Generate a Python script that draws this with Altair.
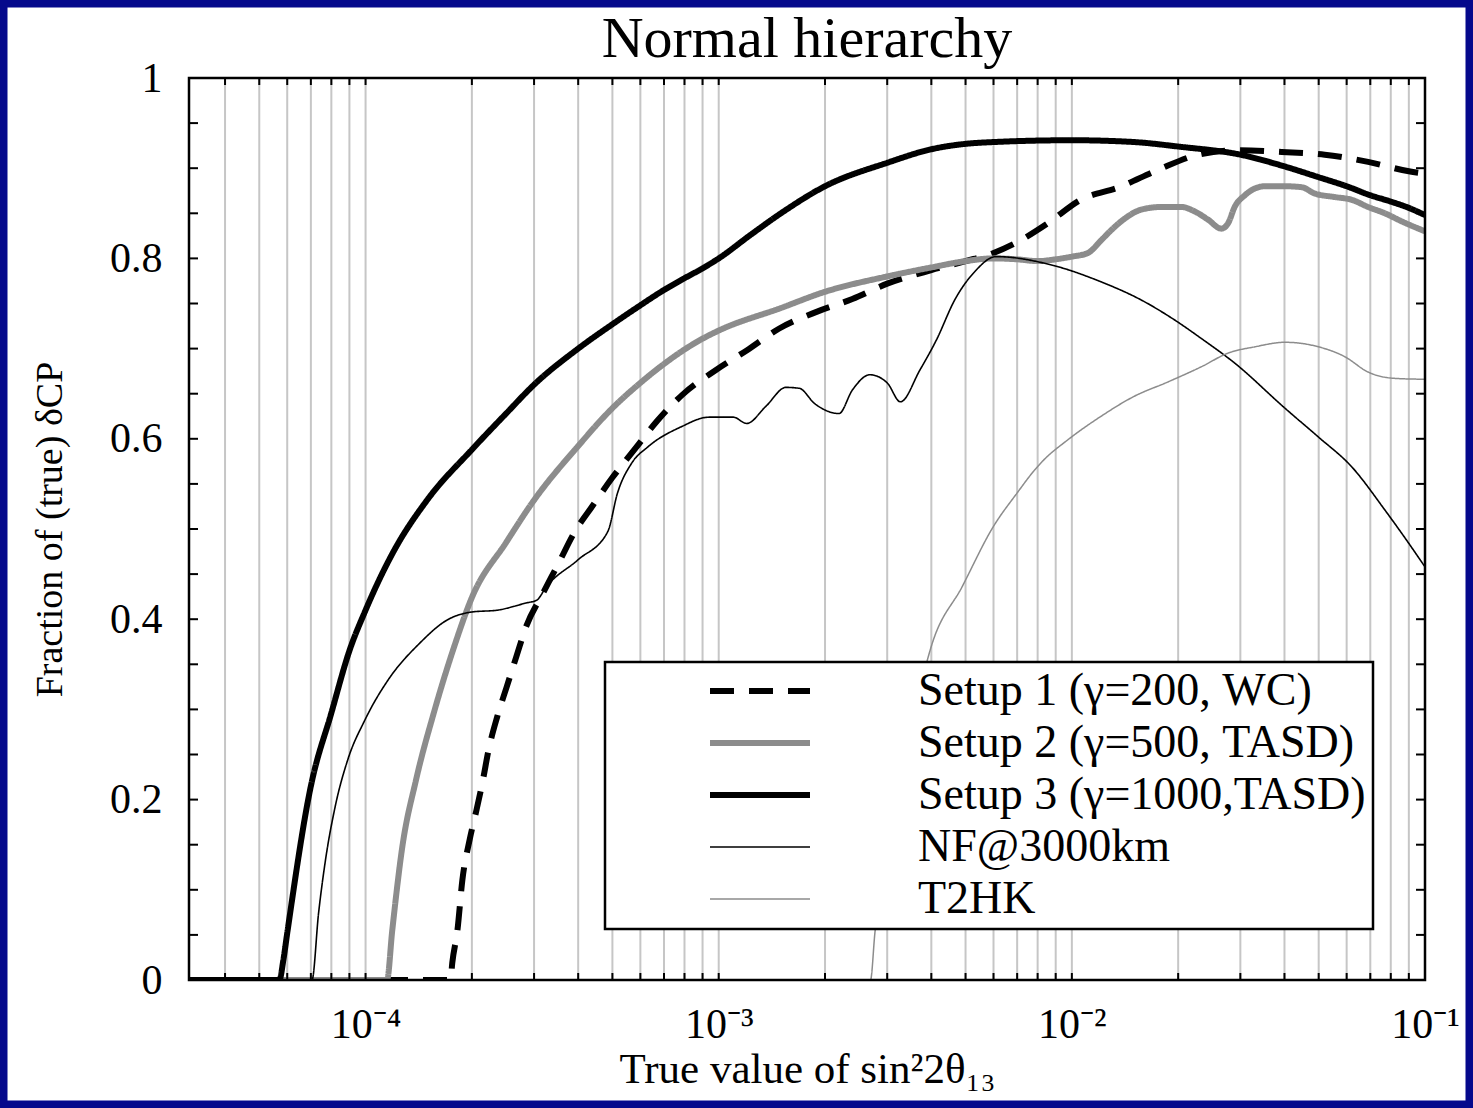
import altair as alt
import pandas as pd

# ---------------- text ----------------
TITLE = "Normal hierarchy"
X_TITLE = "True value of sin²2θ₁₃"
Y_TITLE = "Fraction of (true) δCP"

series_names = ["Setup 1 (γ=200, WC)", "Setup 2 (γ=500, TASD)", "Setup 3 (γ=1000,TASD)", "NF@3000km", "T2HK"]
series_colors = ["#000000", "#8c8c8c", "#000000", "#000000", "#8c8c8c"]
series_widths = [6, 6, 6, 1.6, 1.5]
series_dashes = [[24, 15], [1, 0], [1, 0], [1, 0], [1, 0]]

# ---------------- data ----------------
setup1_x = [3.1623e-5, 1.74e-4, 1.76e-4, 1.82e-4, 1.88e-4, 1.97e-4, 2.06e-4, 2.15e-4, 2.23e-4, 2.36e-4,
            2.51e-4, 2.67e-4, 2.85e-4, 3.18e-4, 3.52e-4, 3.9e-4, 4.38e-4, 5e-4, 5.8e-4, 6.7e-4, 7.9e-4,
            9.8e-4, 1.2e-3, 1.48e-3, 1.9e-3, 2.39e-3, 3e-3, 4e-3, 5e-3, 6e-3, 7e-3, 8.55e-3, 1.06e-2,
            1.36e-2, 1.75e-2, 2.28e-2, 2.96e-2, 3.93e-2, 5.2e-2, 6.9e-2, 9.16e-2, 0.1]
setup1_y = [0, 0, 0.019, 0.055, 0.111, 0.155, 0.188, 0.222, 0.255, 0.292,
            0.325, 0.358, 0.392, 0.429, 0.462, 0.496, 0.525, 0.557, 0.589, 0.62, 0.649,
            0.676, 0.698, 0.722, 0.741, 0.755, 0.772, 0.787, 0.797, 0.806, 0.818, 0.839, 0.865,
            0.879, 0.898, 0.915, 0.92, 0.918, 0.915, 0.907, 0.896, 0.894]

setup2_x = [3.1623e-5, 1.15e-4, 1.19e-4, 1.27e-4, 1.39e-4, 1.56e-4, 1.78e-4, 2e-4, 2.5e-4, 3e-4, 4e-4,
            5e-4, 6e-4, 7e-4, 8e-4, 9e-4, 1e-3, 1.5e-3, 2e-3, 3e-3, 4e-3, 5e-3, 6e-3, 7e-3, 8e-3,
            9e-3, 1e-2, 1.11e-2, 1.21e-2, 1.29e-2, 1.41e-2, 1.57e-2, 1.79e-2, 2.04e-2, 2.23e-2,
            2.43e-2, 2.65e-2, 2.77e-2, 2.89e-2, 3.09e-2, 3.52e-2, 4.01e-2, 4.47e-2, 4.87e-2,
            5.56e-2, 6.2e-2, 6.9e-2, 7.7e-2, 8.6e-2, 0.1]
setup2_y = [0, 0, 0.055, 0.147, 0.222, 0.296, 0.369, 0.424, 0.485, 0.532, 0.592,
            0.634, 0.662, 0.683, 0.699, 0.711, 0.72, 0.745, 0.763, 0.78, 0.79, 0.797, 0.8, 0.799, 0.797,
            0.799, 0.802, 0.806, 0.82, 0.831, 0.844, 0.854, 0.857, 0.857, 0.852,
            0.843, 0.833, 0.839, 0.857, 0.87, 0.88, 0.88, 0.879, 0.872,
            0.868, 0.865, 0.857, 0.85, 0.841, 0.83]

setup3_x = [3.1623e-5, 5.7e-5, 5.85e-5, 6e-5, 7e-5, 8e-5, 9e-5, 1e-4, 1.2e-4, 1.5e-4, 2e-4, 2.5e-4,
            3e-4, 4e-4, 5e-4, 6e-4, 7e-4, 8e-4, 9e-4, 1e-3, 1.23e-3, 1.5e-3, 2e-3, 3e-3, 4e-3, 5e-3,
            6e-3, 1e-2, 1.5e-2, 2e-2, 3e-2, 4e-2, 5e-2, 6e-2, 7e-2, 8e-2, 9e-2, 0.1]
setup3_y = [0, 0, 0.022, 0.052, 0.215, 0.296, 0.365, 0.41, 0.475, 0.533, 0.588, 0.628,
            0.66, 0.70, 0.727, 0.748, 0.765, 0.778, 0.789, 0.80, 0.826, 0.85, 0.88, 0.906, 0.921, 0.927,
            0.929, 0.931, 0.929, 0.924, 0.915, 0.902, 0.89, 0.88, 0.87, 0.863, 0.856, 0.848]

nf_x = [3.1623e-5, 7.05e-5, 7.36e-5, 7.68e-5, 8.2e-5, 8.9e-5, 9.95e-5, 1.16e-4, 1.42e-4, 1.7e-4, 2e-4,
        2.36e-4, 2.85e-4, 3.05e-4, 3.25e-4, 4e-4, 4.85e-4, 5.17e-4, 5.67e-4, 6.3e-4, 7.8e-4, 9.4e-4,
        1.1e-3, 1.2e-3, 1.36e-3, 1.55e-3, 1.69e-3, 1.87e-3, 2.19e-3, 2.39e-3, 2.68e-3, 3e-3, 3.27e-3,
        3.71e-3, 4.14e-3, 4.66e-3, 5.3e-3, 6.1e-3, 8.7e-3, 1.21e-2, 1.57e-2, 1.95e-2, 2.33e-2,
        2.89e-2, 4.01e-2, 4.99e-2, 6.2e-2, 7.7e-2, 8.6e-2, 0.1]
nf_y = [0, 0, 0.074, 0.13, 0.192, 0.244, 0.288, 0.333, 0.373, 0.399, 0.408,
        0.41, 0.418, 0.421, 0.436, 0.466, 0.497, 0.54, 0.573, 0.591, 0.613, 0.624,
        0.624, 0.617, 0.636, 0.657, 0.656, 0.639, 0.628, 0.654, 0.671, 0.662, 0.641,
        0.676, 0.71, 0.754, 0.785, 0.802, 0.793, 0.774, 0.754, 0.732, 0.711,
        0.684, 0.634, 0.602, 0.569, 0.521, 0.495, 0.458]

t2hk_x = [3.1623e-5, 2.69e-3, 2.77e-3, 3e-3, 3.4e-3, 4e-3, 4.89e-3, 6e-3, 7e-3, 7.83e-3, 8.3e-3,
          9.75e-3, 1.21e-2, 1.5e-2, 1.87e-2, 2.33e-2, 2.77e-2, 3.3e-2, 4.01e-2, 4.99e-2, 5.93e-2,
          6.9e-2, 8.2e-2, 0.1]
t2hk_y = [0, 0, 0.053, 0.13, 0.25, 0.37, 0.436, 0.503, 0.54, 0.565, 0.576,
          0.599, 0.625, 0.647, 0.663, 0.68, 0.695, 0.702, 0.707, 0.702, 0.691,
          0.674, 0.667, 0.666]

# axis / grid values
x_domain = [3.1623e-5, 0.1]
y_domain = [0, 1]
x_label_values = [1e-4, 1e-3, 1e-2, 1e-1]
grid_x = [4e-5, 5e-5, 6e-5, 7e-5, 8e-5, 9e-5,
          1e-4, 2e-4, 3e-4, 4e-4, 5e-4, 6e-4, 7e-4, 8e-4, 9e-4,
          1e-3, 2e-3, 3e-3, 4e-3, 5e-3, 6e-3, 7e-3, 8e-3, 9e-3,
          1e-2, 2e-2, 3e-2, 4e-2, 5e-2, 6e-2, 7e-2, 8e-2, 9e-2]
y_label_values = [0, 0.2, 0.4, 0.6, 0.8, 1.0]
y_tick_values = [0.05, 0.1, 0.15, 0.2, 0.25, 0.3, 0.35, 0.4, 0.45, 0.5,
                 0.55, 0.6, 0.65, 0.7, 0.75, 0.8, 0.85, 0.9, 0.95]

# ---------------- build table ----------------
all_x = [setup1_x, setup2_x, setup3_x, nf_x, t2hk_x]
all_y = [setup1_y, setup2_y, setup3_y, nf_y, t2hk_y]
rows = []
for name, w, xs, ys in zip(series_names, series_widths, all_x, all_y):
    for i, (xv, yv) in enumerate(zip(xs, ys)):
        rows.append({"series": name, "x": xv, "y": yv, "w": w, "i": i})
df = pd.DataFrame(rows)

W, H = 1236, 902
FONT = "Liberation Serif"
NAVY = "#05098c"
xscale = alt.Scale(type="log", domain=x_domain, nice=False)
yscale = alt.Scale(domain=y_domain, nice=False, zero=False)
one = alt.Data(values=[{"a": 1}])

label_expr = ("datum.value < 0.0005 ? '10⁻⁴' : datum.value < 0.005 ? '10⁻³' : "
              "datum.value < 0.05 ? '10⁻²' : '10⁻¹'")

x_axis = alt.Axis(values=x_label_values, labelExpr=label_expr, labelFont=FONT, labelFontSize=42,
                  labelColor="black", labelPadding=24, ticks=False, tickSize=0, domain=False,
                  grid=False, labelFlush=False, labelOverlap=False, title=X_TITLE, titleFont=FONT,
                  titleFontSize=43, titleFontWeight="normal", titleColor="black", titlePadding=3)
y_axis = alt.Axis(values=y_label_values, format=".1~f", labelFont=FONT, labelFontSize=42,
                  labelColor="black", labelPadding=27, ticks=False, tickSize=0, domain=False,
                  grid=False, labelFlush=False, labelOverlap=False, title=Y_TITLE, titleFont=FONT,
                  titleFontSize=38, titleFontWeight="normal", titleColor="black", titlePadding=40)

X = alt.X("x:Q", scale=xscale, axis=x_axis)
Y = alt.Y("y:Q", scale=yscale, axis=y_axis)

legend = alt.Legend(
    title=None, orient="none", legendX=416, legendY=584, direction="vertical",
    fillColor="white", strokeColor="black", padding=7,
    labelFont=FONT, labelFontSize=46, labelColor="black", labelLimit=800,
    symbolType="stroke", symbolSize=10000,
    symbolStrokeWidth={"expr": "(indexof(['NF@3000km','T2HK'], datum.value || datum) >= 0 ? 1.6 : 6)"},
    symbolOffset=95, labelOffset=105, rowPadding=6, clipHeight=44,
)

# navy slide border drawn as a thick stroke around the canvas edge
border = alt.Chart(one).mark_rect(fillOpacity=0, stroke=NAVY, strokeWidth=15).encode(
    x=alt.value(-189), x2=alt.value(W + 48), y=alt.value(-78), y2=alt.value(H + 128))

grid = alt.Chart(pd.DataFrame({"x": grid_x})).mark_rule(color="#c6c6c6", strokeWidth=2).encode(
    x=X, y=alt.value(0), y2=alt.value(H))

lines = alt.Chart(df).mark_line(clip=True, strokeCap="butt", strokeJoin="round",
                                interpolate="monotone").encode(
    x=X,
    y=Y,
    color=alt.Color("series:N", scale=alt.Scale(domain=series_names, range=series_colors), legend=legend),
    strokeDash=alt.StrokeDash("series:N", scale=alt.Scale(domain=series_names, range=series_dashes), legend=legend),
    strokeWidth=alt.StrokeWidth("w:Q", scale=None, legend=None),
    order=alt.Order("i:Q"),
)

xt = pd.DataFrame({"x": grid_x})
yt = pd.DataFrame({"y": y_tick_values})
tick_b = alt.Chart(xt).mark_rule(color="black", strokeWidth=2).encode(
    x=X, y=alt.value(H), y2=alt.value(H - 7))
tick_t = alt.Chart(xt).mark_rule(color="black", strokeWidth=2).encode(
    x=X, y=alt.value(0), y2=alt.value(7))
tick_l = alt.Chart(yt).mark_rule(color="black", strokeWidth=2).encode(
    y=Y, x=alt.value(0), x2=alt.value(9))
tick_r = alt.Chart(yt).mark_rule(color="black", strokeWidth=2).encode(
    y=Y, x=alt.value(W), x2=alt.value(W - 9))

frame = alt.Chart(one).mark_rect(fillOpacity=0, stroke="black", strokeWidth=2.5).encode(
    x=alt.value(0), x2=alt.value(W), y=alt.value(0), y2=alt.value(H))

title = alt.Chart(one).mark_text(text=TITLE, font=FONT, fontSize=58, color="black",
                                 align="center", baseline="alphabetic").encode(
    x=alt.value(W / 2), y=alt.value(-21))

chart = alt.layer(border, grid, lines, tick_b, tick_t, tick_l, tick_r, frame, title).properties(
    width=W, height=H,
    padding={"left": 189, "top": 78, "right": 48, "bottom": 128},
    autosize=alt.AutoSizeParams(type="none"),
    background="white",
).configure_view(strokeWidth=0).configure_legend(strokeWidth=2.5)

chart.save("out.html", embed_options={"renderer": "svg", "actions": False})
